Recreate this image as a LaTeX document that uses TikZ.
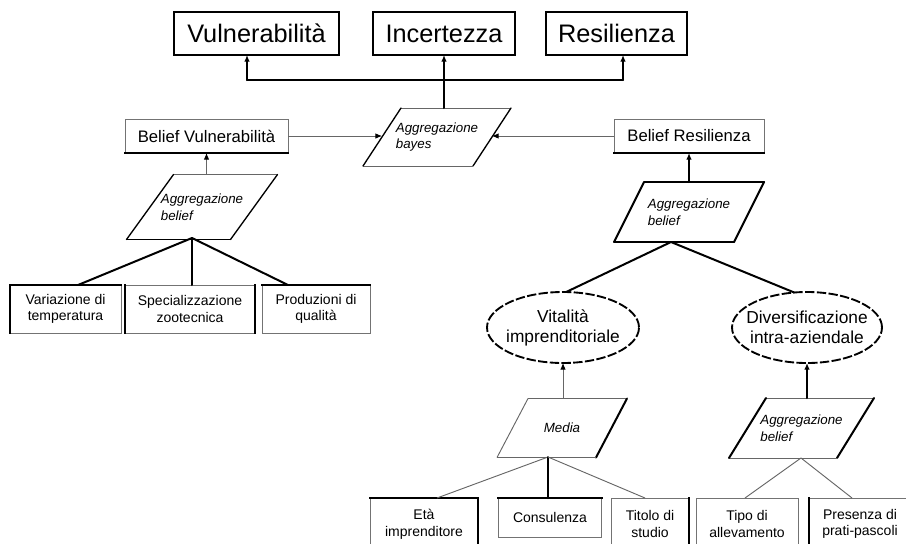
\documentclass[tikz,border=0pt]{standalone}
\usepackage{fontspec}
\setmainfont{Liberation Sans}
\usetikzlibrary{arrows.meta,shapes.geometric}
\newcommand{\fTop}{\fontsize{19}{21}\selectfont}
\newcommand{\fBel}{\fontsize{12.5}{14}\selectfont}
\newcommand{\fLeaf}{\fontsize{10.5}{12.5}\selectfont}
\newcommand{\fPg}{\fontsize{10}{12.5}\selectfont\itshape}
\newcommand{\fEll}{\fontsize{13}{15}\selectfont}
% parallelogram: #1 node, #2 half slant (px), #3 top, #4 right, #5 bottom, #6 left
\newcommand{\pgram}[6]{%
  \coordinate (#1-bl) at ([xshift=-#2*0.75pt]#1.south west);
  \coordinate (#1-tl) at ([xshift=#2*0.75pt]#1.north west);
  \coordinate (#1-tr) at ([xshift=#2*0.75pt]#1.north east);
  \coordinate (#1-br) at ([xshift=-#2*0.75pt]#1.south east);
  \draw[#3] (#1-tl) -- (#1-tr);
  \draw[#4] (#1-tr) -- (#1-br);
  \draw[#5] (#1-br) -- (#1-bl);
  \draw[#6] (#1-bl) -- (#1-tl);
}
\tikzset{
  wh/.style 2 args={minimum width=#1*0.75pt, minimum height=#2*0.75pt},
  topbox/.style={rectangle, draw=black, line width=1.4pt, inner sep=0pt, outer sep=0pt, font=\fTop},
  belief/.style={rectangle, draw=black!55, line width=0.6pt, inner sep=0pt, outer sep=0pt, font=\fBel},
  leaf/.style={rectangle, draw=black!55, line width=0.6pt, inner sep=0pt, outer sep=0pt, align=center, font=\fLeaf},
  pg/.style={rectangle, inner sep=0pt, outer sep=0pt, align=left, font=\fPg},
  ell/.style={ellipse, draw=black, line width=1.4pt, dash pattern=on 7pt off 1.8pt, inner sep=0pt, outer sep=0pt},
  elltext/.style={align=center, font=\fEll, inner sep=0pt},
  ar/.style={-{Latex[length=5pt,width=4.2pt,color=black]}},
  thinl/.style={draw=black!60, line width=0.7pt},
  medl/.style={draw=black, line width=1pt, line cap=round},
  thickl/.style={draw=black, line width=1.5pt, line cap=round},
  thk/.style={draw=black, line width=1.6pt, line cap=rect},
}
\begin{document}
\begin{tikzpicture}[x=0.75pt,y=-0.75pt]
\useasboundingbox (0,0) rectangle (906,543);
\clip (0,0) rectangle (906,543);

% top boxes
\node[topbox, wh={165}{43}] (V) at (256.5,33.5) {Vulnerabilità};
\node[topbox, wh={142}{43}] (I) at (444,33.5) {Incertezza};
\node[topbox, wh={141}{43}] (R) at (616.5,33.5) {Resilienza};

% bayes aggregation
\node[pg, wh={110}{58}] (bayes) at (437,137) {Aggregazione\\bayes};
\pgram{bayes}{19}{thinl}{medl}{thinl}{medl}

% belief boxes
\node[belief, wh={163}{34}] (BV) at (206.5,136) {Belief Vulnerabilità};
\node[belief, wh={150}{34}] (BR) at (689,136) {Belief Resilienza};
\draw[thk] (BV.south west) -- (BV.south east);
\draw[thk] (BR.south west) -- (BR.south east);

% left aggregation
\node[pg, wh={104}{65}] (aggL) at (202,207) {Aggregazione\\belief};
\pgram{aggL}{23.5}{thinl}{medl}{medl}{medl}
\coordinate (apexL) at (192,238);

% right aggregation
\node[pg, wh={120}{60}] (aggR) at (689,212) {Aggregazione\\belief};
\pgram{aggR}{15}{thickl}{thickl}{thickl}{thickl}
\coordinate (apexR) at (671,242);

% left leaves
\node[leaf, wh={111}{48}] (Var) at (65.5,309) {Variazione di\\temperatura};
\node[leaf, wh={130}{48}] (Spec) at (190,309) {Specializzazione\\zootecnica};
\node[leaf, wh={108}{48}] (Prod) at (316,309) {Produzioni di\\qualità};
\draw[thk] (Var.south west) -- (Var.north west) -- (Var.north east);
\draw[thk] (Spec.south west) -- (Spec.north west);
\draw[thk] (Spec.south east) -- (Spec.north east);
\draw[thk] (Prod.north west) -- (Prod.north east);

% ellipses
\node[ell, wh={152}{71}] (Vit) at (563,327.5) {};
\node[elltext] (VitT) at (Vit.center) {Vitalità\\imprenditoriale};
\node[ell, wh={150}{71}] (Div) at (807,327.5) {};
\node[elltext] (DivT) at (Div.center) {Diversificazione\\intra-aziendale};

% lower aggregations
\node[pg, wh={99}{59}] (Media) at (562,428) {Media};
\pgram{Media}{15.5}{thinl}{thickl}{thinl}{thinl}
\coordinate (apexM) at (548,457);
\node[pg, wh={108}{60}] (aggB) at (801.5,428) {Aggregazione\\belief};
\pgram{aggB}{18.5}{thinl}{thickl}{thinl}{thickl}
\coordinate (apexB) at (801,458);

% bottom leaves
\node[leaf, wh={108}{52}] (Eta) at (424,524) {Età\\imprenditore};
\node[leaf, wh={103}{39}] (Cons) at (550,517.5) {Consulenza};
\node[leaf, wh={78}{52}] (Tit) at (650,524) {Titolo di\\studio};
\node[leaf, wh={102}{52}] (Tipo) at (747,524) {Tipo di\\allevamento};
\node[leaf, wh={102}{52}] (Pres) at (860,524) {Presenza di\\prati-pascoli};
\draw[thk] (Eta.north west) -- (Eta.north east) -- (Eta.south east);
\draw[thk] (Cons.north west) -- (Cons.north east);
\draw[thk] (Tit.north east) -- (Tit.south east);
\draw[thk] (Pres.north west) -- (Pres.south west);

% connectors: top
\coordinate (busL) at (247,80);
\coordinate (busR) at (623,80);
\draw[thickl, ar] (I.south |- bayes.north) -- (I.south);
\draw[thickl] (busL) -- (busR);
\draw[thickl, ar] (busL) -- (busL |- V.south);
\draw[thickl, ar] (busR) -- (busR |- R.south);

% belief -> bayes
\draw[thinl, ar] (BV.east) -- (BV.east -| bayes.west);
\draw[thinl, ar] (BR.west) -- (BR.west -| bayes.east);

% aggregations -> beliefs
\draw[thinl, ar] (BV.south |- aggL.north) -- (BV.south);
\draw[thickl, ar] (BR.south |- aggR.north) -- (BR.south);

% left tree
\draw[thickl] (apexL) -- ([xshift=9.4pt]Var.north);
\draw[thickl] (apexL) -- (apexL |- Spec.north);
\draw[thickl] (apexL) -- ([xshift=-21pt]Prod.north);

% right tree
\draw[thickl] (apexR) -- (Vit.85);
\draw[thickl] (apexR) -- (Div.110);
\draw[thinl, ar] (Vit.south |- Media.north) -- (Vit.south);
\draw[thickl, ar] (Div.south |- aggB.north) -- (Div.south);

% bottom trees
\draw[thinl] (apexM) -- ([xshift=9.75pt]Eta.north);
\draw[thickl] (apexM) -- (apexM |- Cons.north);
\draw[thinl] (apexM) -- ([xshift=-3.75pt]Tit.north);
\draw[thinl] (apexB) -- ([xshift=-1.5pt]Tipo.north);
\draw[thinl] (apexB) -- ([xshift=-6pt]Pres.north);
\end{tikzpicture}
\end{document}
